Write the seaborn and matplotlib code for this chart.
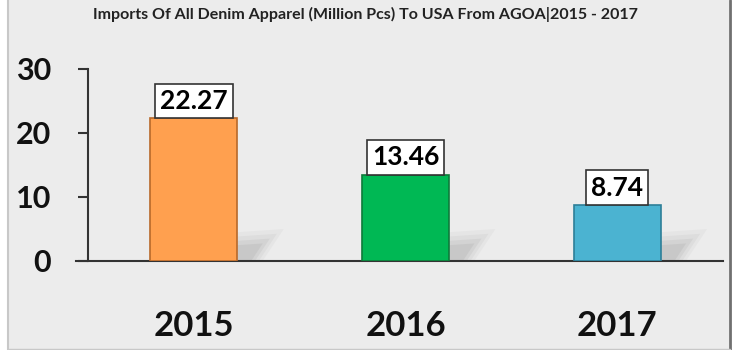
import matplotlib
matplotlib.use("Agg")
import matplotlib.pyplot as plt
import seaborn as sns
import pandas as pd
from matplotlib.patches import Rectangle, Polygon
from matplotlib.lines import Line2D

years = ["2015", "2016", "2017"]
values = [22.27, 13.46, 8.74]
colors = ["#FFA04F", "#00B854", "#4BB3D1"]
edge_colors = ["#B8692A", "#0E7A3A", "#2E7F98"]
yticks = [0, 10, 20, 30]
title = "Imports Of All Denim Apparel (Million Pcs) To USA From AGOA|2015 - 2017"

sns.set_theme(style="white")
plt.rcParams['font.family'] = ['Lato', 'DejaVu Sans']

df = pd.DataFrame({"year": years, "value": values})

fig = plt.figure(figsize=(7.4, 3.5), dpi=100)
fig.patch.set_facecolor("white")
# background panel with border
fig.add_artist(Rectangle((7.5/740, 1/350), (729-7.5)/740, 349/350, transform=fig.transFigure,
                         facecolor="#ECECEC", edgecolor="none", zorder=-10))
fig.add_artist(Line2D([7.5/740, 7.5/740], [0, 1], transform=fig.transFigure, color="#C8C8C8", lw=1.5))
fig.add_artist(Line2D([729.5/740, 729.5/740], [0, 1], transform=fig.transFigure, color="#707070", lw=2.0))
fig.add_artist(Line2D([7.5/740, 729.5/740], [1/350, 1/350], transform=fig.transFigure, color="#C8C8C8", lw=1.0))

ax = fig.add_axes([88/740, (350-261)/350, 635/740, 192/350])
ax.set_facecolor("none")
sns.barplot(data=df, x="year", y="value", hue="year", palette=colors, legend=False,
            width=0.41, ax=ax, saturation=1)
bars = list(ax.patches)
for p, ec in zip(bars, edge_colors):
    p.set_edgecolor(ec)
    p.set_linewidth(1.2)
    p.set_zorder(3)
    # soft shadow to the right of bar base
    x0 = p.get_x() + p.get_width()
    for k, a in [(1.0, 0.06), (0.85, 0.08), (0.7, 0.10), (0.55, 0.12)]:
        ax.add_patch(Polygon(
            [(x0, 0), (x0, 4.5 * k), (x0 + 0.22 * k, 5.0 * k), (x0 + 0.12 * k, 0)],
            closed=True, facecolor="#808080", alpha=a, edgecolor="none", zorder=1))

for p, v in zip(bars, values):
    ax.annotate(f"{v:.2f}", (p.get_x() + p.get_width() / 2, p.get_height()),
                xytext=(0, 4), textcoords="offset points", ha="center", va="bottom",
                fontsize=19, fontweight="bold", color="black", zorder=4,
                bbox=dict(boxstyle="square,pad=0.2", facecolor="white", edgecolor="#333333", lw=1.2))

ax.set_xlim(-0.5, 2.5)
ax.set_ylim(0, 30)
ax.set_yticks(yticks)
ax.set_yticklabels([str(t) for t in yticks], fontsize=22, fontweight="bold", color="#111111")
ax.set_xticklabels(years, fontsize=25, fontweight="bold", color="#111111")
ax.tick_params(axis="y", length=7.5, width=1.5, color="#333333", pad=19, left=True)
ax.tick_params(axis="x", length=0, pad=35)
ax.set_xlabel("")
ax.set_ylabel("")
for s in ["top", "right"]:
    ax.spines[s].set_visible(False)
ax.spines["left"].set_color("#333333")
ax.spines["left"].set_linewidth(1.5)
ax.spines["bottom"].set_color("#333333")
ax.spines["bottom"].set_linewidth(1.5)
ax.spines["bottom"].set_bounds(-0.555, 2.5)

fig.text(365/740, 1 - 14/350, title, ha="center", va="center", fontsize=11.5,
         fontweight="bold", color="#222222")

fig.savefig("out.png", dpi=100)
